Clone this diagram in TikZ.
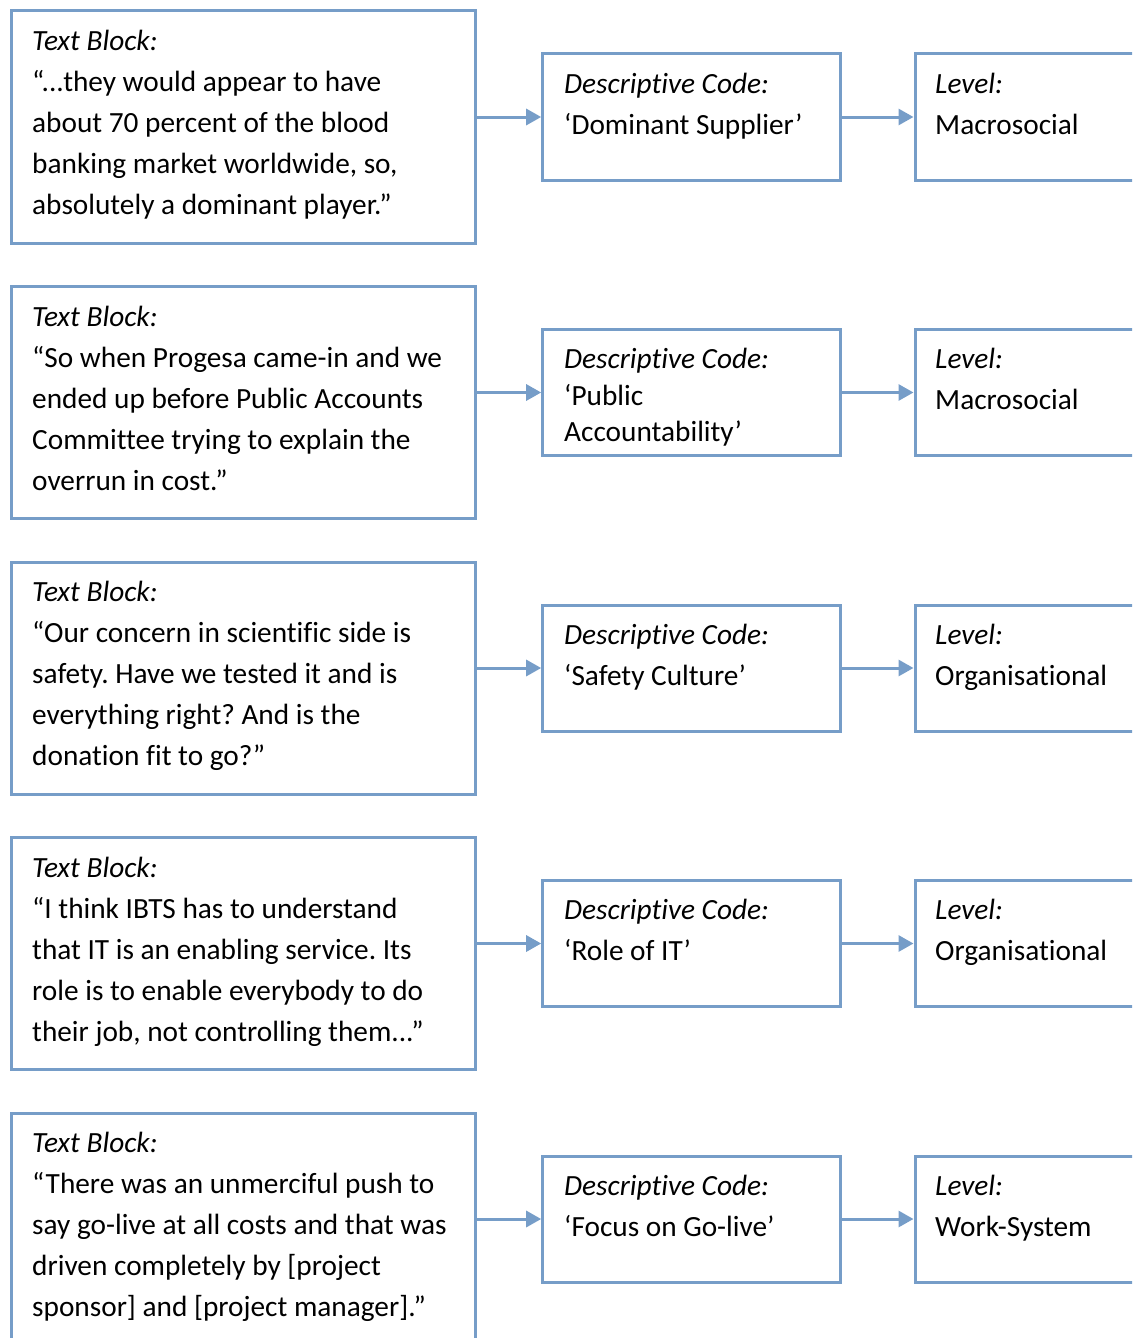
\documentclass[tikz,border=0pt]{standalone}
\usepackage{fontspec}
\setmainfont[Ligatures=NoCommon]{Carlito}
\usetikzlibrary{arrows.meta,calc}
\definecolor{frame}{RGB}{118,157,200}
\frenchspacing
\newcommand\cellbody[2][41pt]{\parbox[t]{440pt}{\baselineskip=#1\relax #2}}
\tikzset{
  box/.style={draw=frame, line width=3pt, rectangle, inner sep=0pt},
  quotebox/.style={box, minimum width=464pt, minimum height=232pt},
  codebox/.style={box, minimum width=298pt, minimum height=126pt},
  levelbox/.style={box, minimum width=300pt, minimum height=126pt},
  celltext/.style={anchor=base west, inner sep=0pt, font=\fontsize{29.3pt}{41pt}\selectfont},
  conn/.style={draw=frame, line width=3pt, -{Triangle[length=15pt,width=16pt]}},
}
\begin{document}
\begin{tikzpicture}[x=1pt,y=-1pt]
\useasboundingbox (0,0) rectangle (1132,1338);
\clip (0,0) rectangle (1132,1338);

% one row per coded text block: quote -> descriptive code -> level
\foreach \i/\top/\quote/\code/\codeskip/\level in {
  1/11/{\textit{Text Block:}\\“...they would appear to have\\about 70 percent of the blood\\banking market worldwide, so,\\absolutely a dominant player.”}/{‘Dominant Supplier’}/41pt/{Macrosocial},
  2/286.5/{\textit{Text Block:}\\“So when Progesa came-in and we\\ended up before Public Accounts\\Committee trying to explain the\\overrun in cost.”}/{‘Public\\Accountability’}/36.5pt/{Macrosocial},
  3/562/{\textit{Text Block:}\\“Our concern in scientific side is\\safety. Have we tested it and is\\everything right? And is the\\donation fit to go?”}/{‘Safety Culture’}/41pt/{Organisational},
  4/837.5/{\textit{Text Block:}\\“I think IBTS has to understand\\that IT is an enabling service. Its\\role is to enable everybody to do\\their job, not controlling them...”}/{‘Role of IT’}/41pt/{Organisational},
  5/1113/{\textit{Text Block:}\\“There was an unmerciful push to\\say go-live at all costs and that was\\driven completely by [project\\sponsor] and [project manager].”}/{‘Focus on Go-live’}/41pt/{Work-System}%
}{
  \node[quotebox] (t\i) at (243,\top+116) {};
  \node[codebox]  (d\i) at (691.7,\top+106) {};
  \node[levelbox] (l\i) at (1065,\top+106) {};
  \node[celltext] (tt\i) at (32,\top+39.5) {\cellbody{\quote}};
  \node[celltext] (dt\i) at (564,\top+82) {\cellbody[\codeskip]{\textit{Descriptive Code:}\\\code}};
  \node[celltext] (lt\i) at (935,\top+82) {\cellbody{\textit{Level:}\\\level}};
  \draw[conn] (t\i.east |- d\i.west) -- (d\i.west);
  \draw[conn] (d\i.east) -- (l\i.west);
}
\end{tikzpicture}
\end{document}
